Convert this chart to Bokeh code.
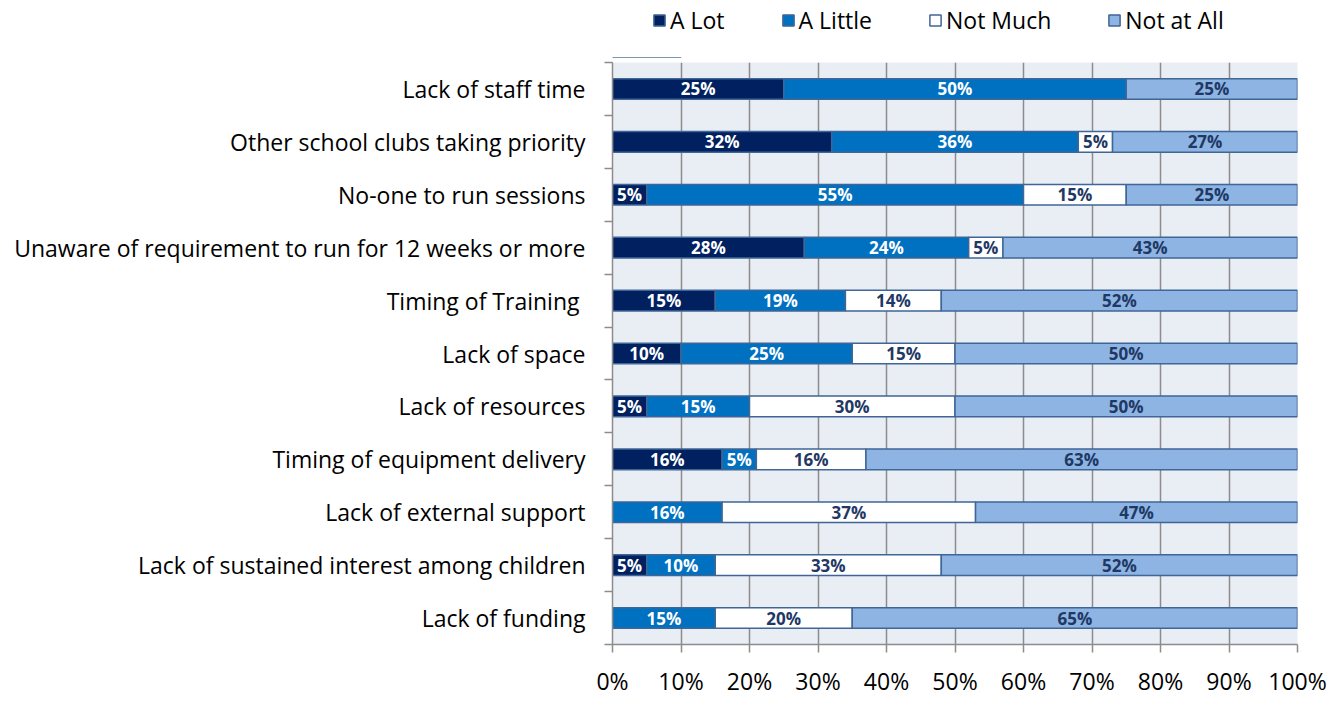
import numpy as np
from bokeh.plotting import figure
from bokeh.layouts import column
from bokeh.models import (ColumnDataSource, Range1d, FixedTicker, NumeralTickFormatter,
                          Legend, LegendItem)
from bokeh.core.properties import value
from bokeh.embed import file_html
from bokeh.resources import INLINE

categories = [
    "Lack of staff time",
    "Other school clubs taking priority",
    "No-one to run sessions",
    "Unaware of requirement to run for 12 weeks or more",
    "Timing of Training ",
    "Lack of space",
    "Lack of resources",
    "Timing of equipment delivery",
    "Lack of external support",
    "Lack of sustained interest among children",
    "Lack of funding",
]
series = ["A Lot", "A Little", "Not Much", "Not at All"]
a_lot = [25, 32, 5, 28, 15, 10, 5, 16, 0, 5, 0]
a_little = [50, 36, 55, 24, 19, 25, 15, 5, 16, 10, 15]
not_much = [0, 5, 15, 5, 14, 15, 30, 16, 37, 33, 20]
not_at_all = [25, 27, 25, 43, 52, 50, 50, 63, 47, 52, 65]
x_ticks = [0, 0.1, 0.2, 0.3, 0.4, 0.5, 0.6, 0.7, 0.8, 0.9, 1.0]

colors = ["#002060", "#0070C0", "#FFFFFF", "#8DB4E2"]
label_colors = ["#FFFFFF", "#FFFFFF", "#1F3864", "#1F3864"]
outline = "#3F6696"
grid_col = "#8C8C8C"
FONT = "Open Sans"

n = len(categories)
ypos = [n - 1 - i + 0.5 for i in range(n)]
vals = np.array([a_lot, a_little, not_much, not_at_all], dtype=float) / 100.0
ends = np.cumsum(vals, axis=0)
starts = ends - vals

W = 1335
LEG_H = 58
MAIN_H = 641

# ---- legend strip (sits above the chart) ----
lg = figure(width=W, height=LEG_H, output_backend="svg", toolbar_location=None,
            x_range=Range1d(0, 1), y_range=Range1d(0, 1),
            min_border=0, min_border_left=0, min_border_right=0,
            min_border_top=0, min_border_bottom=0)
lg.axis.visible = False
lg.grid.grid_line_color = None
lg.outline_line_color = None
lg.background_fill_color = "white"
lg.border_fill_color = "white"

# ---- main chart ----
p = figure(width=W, height=MAIN_H, output_backend="svg", toolbar_location=None,
           x_range=Range1d(0, 1), y_range=Range1d(0, n),
           min_border_left=612, min_border_right=W - 1297, min_border_top=4,
           min_border_bottom=41)
p.background_fill_color = "#E9EDF4"
p.border_fill_color = "white"
p.outline_line_color = None

p.xgrid.ticker = FixedTicker(ticks=x_ticks)
p.xgrid.grid_line_color = grid_col
p.xgrid.grid_line_width = 1.5
p.ygrid.grid_line_color = None

items = []
for k, name in enumerate(series):
    mask = vals[k] > 0
    src = ColumnDataSource(dict(
        y=[ypos[i] for i in range(n) if mask[i]],
        left=[starts[k][i] for i in range(n) if mask[i]],
        right=[ends[k][i] for i in range(n) if mask[i]],
        mid=[(starts[k][i] + ends[k][i]) / 2 for i in range(n) if mask[i]],
        lab=["%d%%" % round(vals[k][i] * 100) for i in range(n) if mask[i]],
    ))
    p.hbar(y="y", left="left", right="right", height=0.39, source=src,
           fill_color=colors[k], line_color=outline, line_width=1.5)
    p.text(x="mid", y="y", text="lab", source=src, text_align="center",
           text_baseline="middle", text_font=value(FONT), text_font_style="bold",
           text_font_size="17px", text_color=label_colors[k])
    # legend swatch renderer in the legend strip (its one bar lies outside the
    # strip's visible range, only the legend swatch is shown)
    lr = lg.hbar(y=[-5], left=[0], right=[0.1], height=0.4,
                 fill_color=colors[k], line_color=outline, line_width=1.5)
    items.append(LegendItem(label=name, renderers=[lr]))

# the legend strip's frame is aligned with the chart's frame (starts at 0%)
legend = Legend(items=items, orientation="horizontal", location=(40, 22),
                label_text_font=FONT, label_text_font_size="23px",
                glyph_width=14, glyph_height=14, label_standoff=4, spacing=56,
                border_line_color=None, background_fill_alpha=0,
                padding=0, margin=0, label_text_color="#000000")
lg.add_layout(legend, "center")

# x axis
p.xaxis.ticker = FixedTicker(ticks=x_ticks)
p.xaxis.formatter = NumeralTickFormatter(format="0%")
p.xaxis.major_label_text_font = FONT
p.xaxis.major_label_text_font_size = "23px"
p.xaxis.major_label_text_color = "#000000"
p.xaxis.axis_line_color = grid_col
p.xaxis.axis_line_width = 1.5
p.xaxis.major_tick_line_color = grid_col
p.xaxis.major_tick_line_width = 1.5
p.xaxis.major_tick_out = 8
p.xaxis.major_tick_in = 0
p.xaxis.minor_tick_line_color = None
p.xaxis.major_label_standoff = 12

# y axis
p.yaxis.ticker = FixedTicker(ticks=ypos, minor_ticks=list(range(n + 1)))
p.yaxis.major_label_overrides = {ypos[i]: categories[i] for i in range(n)}
p.yaxis.major_label_text_font = FONT
p.yaxis.major_label_text_font_size = "23px"
p.yaxis.major_label_text_color = "#000000"
p.yaxis.axis_line_color = grid_col
p.yaxis.axis_line_width = 1.5
p.yaxis.major_tick_line_color = None
p.yaxis.major_tick_out = 0
p.yaxis.major_tick_in = 0
p.yaxis.minor_tick_line_color = grid_col
p.yaxis.minor_tick_line_width = 1.5
p.yaxis.minor_tick_out = 8
p.yaxis.minor_tick_in = 0
p.yaxis.major_label_standoff = 19

layout = column(lg, p, spacing=0)
open("out.html", "w").write(file_html(layout, INLINE))
